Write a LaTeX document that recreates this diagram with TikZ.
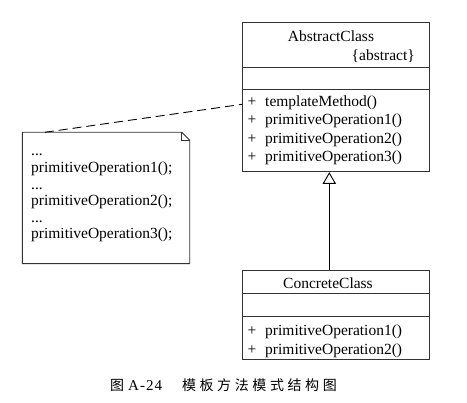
\documentclass[tikz,border=0pt]{standalone}
\usepackage{fontspec}
\setmainfont{Liberation Serif}
\newfontfamily\cjk{Noto Sans CJK SC}
\usetikzlibrary{arrows.meta,calc}
\tikzset{
  boxline/.style={draw=black!80, line width=0.9pt},
  classbox/.style={boxline, rectangle, inner sep=0pt},
  txt/.style={inner sep=0pt, font=\fontsize{15.5}{18.3}\selectfont},
}
\newcommand{\cg}{\hspace{3.6pt}}
\begin{document}
\begin{tikzpicture}[x=1pt,y=-1pt]
\useasboundingbox (0,0) rectangle (467,403);
% AbstractClass
\node[classbox, minimum width=186.6pt, minimum height=149.4pt] (abs) at (336,97) {};
\draw[boxline] (abs.west |- 0,67.3) -- (abs.east |- 0,67.3);
\draw[boxline] (abs.west |- 0,89) -- (abs.east |- 0,89);
\node[txt, anchor=base] (absname) at (331,42) {AbstractClass};
\node[txt, anchor=base east] (abstag) at (415,60.3) {\{abstract\}};
\node[txt, anchor=base west] (absops) at (247.3,106.5) {%
  \fontsize{15.5}{18.3}\selectfont
  \begin{tabular}[t]{@{}l@{\hspace{9pt}}l@{}}
  + & templateMethod()\\
  + & primitiveOperation1()\\
  + & primitiveOperation2()\\
  + & primitiveOperation3()
  \end{tabular}};
% ConcreteClass
\node[classbox, minimum width=186.3pt, minimum height=89pt] (con) at (336,314.5) {};
\draw[boxline] (con.west |- 0,293.3) -- (con.east |- 0,293.3);
\draw[boxline] (con.west |- 0,316) -- (con.east |- 0,316);
\node[txt, anchor=base] (conname) at (328,288.4) {ConcreteClass};
\node[txt, anchor=base west] (conops) at (247.3,336) {%
  \fontsize{15.5}{18.3}\selectfont
  \begin{tabular}[t]{@{}l@{\hspace{9pt}}l@{}}
  + & primitiveOperation1()\\
  + & primitiveOperation2()
  \end{tabular}};
% generalization
\draw[line width=0.9pt, -{Triangle[open, length=11.7pt, width=13.3pt]}] ($(con.north)+(-6.7,0)$) -- ($(abs.south)+(-6.7,0)$);
% note
\node[inner sep=0pt, minimum width=167pt, minimum height=131pt] (note) at (106,198) {};
\draw[boxline, line join=miter] (note.north west) -- ($(note.north east)+(-8,0)$) -- ($(note.north east)+(0,8)$) -- (note.south east) -- (note.south west) -- cycle;
\draw[boxline] ($(note.north east)+(-8,0)$) |- ($(note.north east)+(0,8)$);
\node[txt, anchor=base west] (notetext) at (31,156) {%
  \fontsize{15.5}{16.6}\selectfont
  \begin{tabular}[t]{@{}l@{}}
  ...\\
  primitiveOperation1();\\
  ...\\
  primitiveOperation2();\\
  ...\\
  primitiveOperation3();
  \end{tabular}};
\draw[line width=0.9pt, dash pattern=on 9pt off 5pt] ($(note.north west)+(22.5,0)$) -- ($(abs.west)+(0,7.3)$);
% caption
\node[anchor=base west, inner sep=0pt] (caption) at (110,390.3) {%
  {\cjk\fontsize{14}{14}\selectfont 图}\hspace{4pt}%
  {\fontsize{15}{15}\selectfont A\kern1pt-\kern1pt2\kern1pt4}\hspace{20pt}%
  {\cjk\fontsize{14}{14}\selectfont 模\cg 板\cg 方\cg 法\cg 模\cg 式\cg 结\cg 构\cg 图}};
\end{tikzpicture}
\end{document}
